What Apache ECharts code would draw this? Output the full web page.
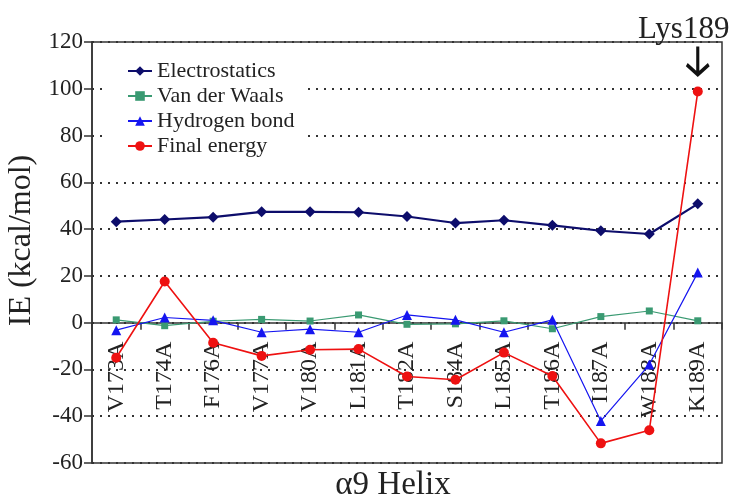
<!DOCTYPE html>
<html>
<head>
<meta charset="utf-8">
<script src="https://cdn.jsdelivr.net/npm/echarts@6/dist/echarts.min.js"></script>
<style>
  html, body { margin: 0; padding: 0; background: #fff; }
  #chart { width: 735px; height: 501px; }
</style>
</head>
<body>
<div id="chart"></div>
<script>
// Alanine-scan mutants along the alpha-9 helix
const residues = ['V173A', 'T174A', 'F176A', 'V177A', 'V180A', 'L181A', 'T182A',
                  'S184A', 'L185A', 'T186A', 'I187A', 'W188A', 'K189A'];

// Interaction energy components (kcal/mol)
const electrostatics = [43.2, 44.1, 45.1, 47.4, 47.4, 47.2, 45.4, 42.6, 43.8, 41.6, 39.3, 37.9, 50.8];
const vanDerWaals    = [1.2, -1.3, 0.6, 1.4, 0.7, 3.3, -0.7, -0.5, 0.8, -2.6, 2.6, 5.0, 0.8];
const hydrogenBond   = [-3.2, 2.2, 1.0, -4.1, -2.8, -4.1, 3.3, 1.2, -4.1, 1.2, -42.0, -17.9, 21.4];
const finalEnergy    = [-15.0, 17.6, -8.6, -14.2, -11.6, -11.3, -23.0, -24.4, -12.8, -22.8, -51.6, -46.0, 98.8];

// Y axis scale
const yMin = -60, yMax = 120, yStep = 20;

const serif = '"Liberation Serif", "DejaVu Serif", serif';

const chart = echarts.init(document.getElementById('chart'), null, { renderer: 'canvas' });

chart.setOption({
  backgroundColor: '#ffffff',
  animation: false,
  title: {
    text: 'α9 Helix',
    left: 393,
    textAlign: 'center',
    top: 469,
    padding: 0,
    textStyle: { fontFamily: serif, fontSize: 33, fontWeight: 'normal', color: '#222' }
  },
  grid: {
    left: 92, right: 13, top: 42, bottom: 38,
    outerBoundsMode: 'none',
    containLabel: false,
    show: true,
    borderColor: '#333',
    borderWidth: 1.5,
    backgroundColor: 'transparent'
  },
  legend: {
    orient: 'vertical',
    left: 103,
    top: 55,
    padding: [5, 8, 5, 24],
    backgroundColor: '#ffffff',
    itemWidth: 24,
    itemHeight: 12,
    itemGap: 3,
    textStyle: { fontFamily: serif, fontSize: 22, color: '#222', lineHeight: 22 },
    data: ['Electrostatics', 'Van der Waals', 'Hydrogen bond', 'Final energy']
  },
  xAxis: {
    type: 'category',
    data: residues,
    boundaryGap: true,
    axisLine: { onZero: false, lineStyle: { color: '#333', width: 1.5 } },
    axisTick: { show: true, length: 7, alignWithLabel: false, lineStyle: { color: '#333', width: 1.5 } },
    axisLabel: {
      rotate: 90, margin: 19, interval: 0,
      fontFamily: serif, fontSize: 24, color: '#222'
    },
    splitLine: { show: false }
  },
  yAxis: {
    type: 'value',
    min: yMin, max: yMax, interval: yStep,
    name: 'IE (kcal/mol)',
    nameLocation: 'middle',
    nameGap: 50,
    nameTextStyle: { fontFamily: serif, fontSize: 32, color: '#222', padding: [0, 0, 0, 24] },
    axisLine: { show: true, lineStyle: { color: '#333', width: 1.5 } },
    axisTick: { show: true, length: 8, lineStyle: { color: '#333', width: 1.5 } },
    axisLabel: { fontFamily: serif, fontSize: 23, color: '#222', margin: 9 },
    splitLine: { show: true, lineStyle: { color: '#333', width: 2, type: [2, 6] } }
  },
  series: [
    {
      name: 'Electrostatics', type: 'line', data: electrostatics,
      symbol: 'diamond', symbolSize: 11,
      lineStyle: { color: '#0d0d6b', width: 2.2 },
      itemStyle: { color: '#0d0d6b' },
      z: 3
    },
    {
      name: 'Van der Waals', type: 'line', data: vanDerWaals,
      symbol: 'rect', symbolSize: 7,
      lineStyle: { color: '#3a9a72', width: 1.2 },
      itemStyle: { color: '#3a9a72' },
      z: 4
    },
    {
      name: 'Hydrogen bond', type: 'line', data: hydrogenBond,
      symbol: 'triangle', symbolSize: 10,
      lineStyle: { color: '#1515f0', width: 1.2 },
      itemStyle: { color: '#1515f0' },
      z: 5
    },
    {
      name: 'Final energy', type: 'line', data: finalEnergy,
      symbol: 'circle', symbolSize: 10,
      lineStyle: { color: '#ee1111', width: 1.6 },
      itemStyle: { color: '#ee1111' },
      z: 6,
      markPoint: {
        data: [{ type: 'max' }],
        symbol: 'path://M11 0 L11 28 M1 18 L11 28 L21 18',
        symbolSize: [22, 28],
        symbolOffset: [0, -31],
        itemStyle: { color: 'transparent', borderColor: '#111', borderWidth: 3.5 },
        label: {
          show: true,
          position: 'top',
          distance: 0,
          offset: [-14, 1],
          formatter: 'Lys189',
          fontFamily: serif, fontSize: 31, color: '#222'
        }
      }
    }
  ]
});

// Shift the category axis (line, ticks and labels) up to the y = 0 level
const zeroY = chart.convertToPixel({ yAxisIndex: 0 }, 0);
const floorY = chart.convertToPixel({ yAxisIndex: 0 }, yMin);
chart.setOption({ xAxis: { offset: -(floorY - zeroY) } });
</script>
</body>
</html>
